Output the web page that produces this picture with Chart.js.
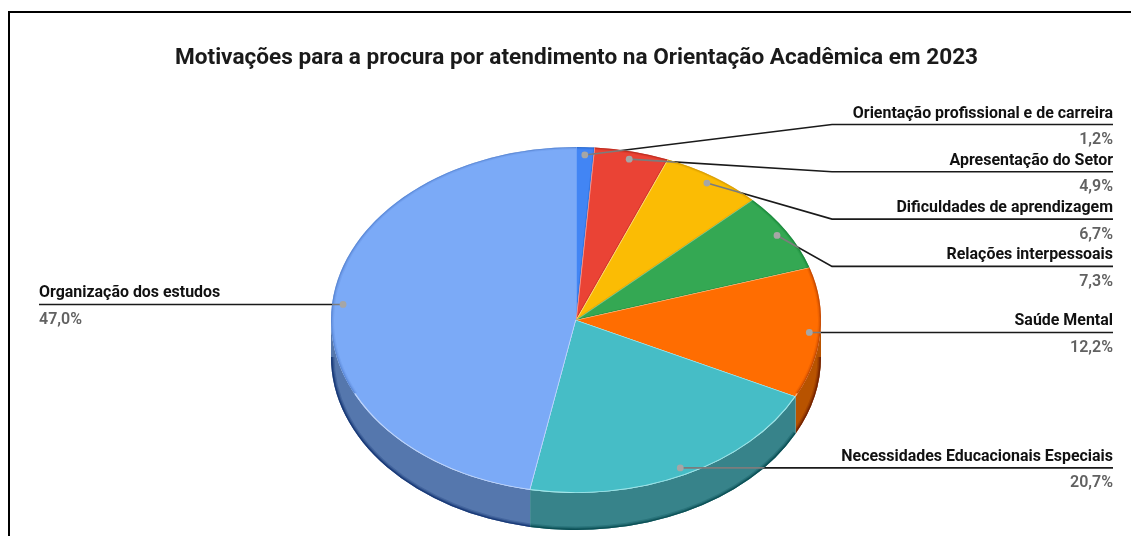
<!DOCTYPE html>
<html><head><meta charset="utf-8">
<style>html,body{margin:0;padding:0;background:#fff;overflow:hidden}
#w{position:relative;width:1131px;height:536px}
#f{position:absolute;left:8px;top:11px;width:1140px;height:540px;border:2px solid #000;box-sizing:border-box;pointer-events:none}</style>
<script src="https://cdn.jsdelivr.net/npm/chart.js@4"></script>
</head><body><div id="w"><canvas id="c" width="1131" height="536"></canvas><div id="f"></div></div>
<script>
const titleText = 'Motivações para a procura por atendimento na Orientação Acadêmica em 2023';
const categories = ['Orientação profissional e de carreira','Apresentação do Setor','Dificuldades de aprendizagem','Relações interpessoais','Saúde Mental','Necessidades Educacionais Especiais','Organização dos estudos'];
const values = [1.2,4.9,6.7,7.3,12.2,20.7,47.0];
const valueLabels = ['1,2%','4,9%','6,7%','7,3%','12,2%','20,7%','47,0%'];
const colors = ['#4285F4','#EA4335','#FBBC04','#34A853','#FF6D01','#46BDC6','#7BAAF7'];
const rimColors = ['#1f5fc0','#a81f14','#c98f00','#0f7a30','#a83800','#1d8a92','#4a78c4'];
const edgeColors = ['#8ab4f8','#f7aaa4','#fde293','#81c995','#ffc79a','#b4f0f3','#cfe0fd'];
const wallColors = ['#2a5199','#90281f','#9a7300','#1f6b33','#B85300','#37838A','#5577AD'];
const wallEdge = ['#123a80','#6a1208','#705000','#0d4a20','#6a1c00','#04484e','#10306f'];

const TILT=0.706, DEPTH=37, CY=320, TOP_ROW=124.5, ROW_PITCH=47.3;
const toY = (y,cy)=>CY+(y-cy)*TILT;

function pieGeom(chart){
  const arcs=chart.getDatasetMeta(0).data;
  const a0=arcs[0];
  return {arcs,cx:a0.x,cy:a0.y,R:a0.outerRadius};
}
function ellipsePt(g,ang,r){return [g.cx+Math.cos(ang)*r, toY(g.cy+Math.sin(ang)*r,g.cy)];}

function leaders(chart){
  const g=pieGeom(chart);
  const right=[],left=[];
  g.arcs.forEach((a,i)=>{
    const mid=(a.startAngle+a.endAngle)/2;
    const p=ellipsePt(g,mid,g.R*0.955);
    (p[0]>=g.cx?right:left).push({i,x:p[0],y:p[1]});
  });
  let prev=null;
  right.forEach(o=>{o.ly=prev===null?TOP_ROW:Math.max(o.y,prev+ROW_PITCH);prev=o.ly;o.side=1;});
  left.forEach(o=>{o.ly=o.y;o.side=-1;});
  return right.concat(left);
}
function linePath(ctx,o){
  ctx.beginPath();ctx.moveTo(o.x,o.y);
  if(o.side>0){ if(Math.abs(o.ly-o.y)>0.5) ctx.lineTo(832,o.ly); ctx.lineTo(1113,o.ly);} 
  else ctx.lineTo(39,o.ly);
}
function solidPath(ctx,g){
  ctx.beginPath();
  ctx.ellipse(g.cx,CY,g.R,g.R*TILT,0,Math.PI,0,false);
  ctx.ellipse(g.cx,CY+DEPTH,g.R,g.R*TILT,0,0,Math.PI,false);
  ctx.closePath();
}
const pie3d={
  id:'pie3d',
  beforeDatasetsDraw(chart){
    const ctx=chart.ctx,g=pieGeom(chart);
    ctx.save();ctx.strokeStyle='#1a1a1a';ctx.lineWidth=1.6;
    leaders(chart).forEach(o=>{linePath(ctx,o);ctx.stroke();});
    ctx.restore();
    g.arcs.forEach((a,i)=>{
      const s=Math.max(a.startAngle,0), e=Math.min(a.endAngle,Math.PI);
      if(e<=s) return;
      const rx=g.R, ry=g.R*TILT;
      ctx.beginPath();
      ctx.ellipse(g.cx,CY,rx,ry,0,s,e,false);
      ctx.ellipse(g.cx,CY+DEPTH,rx,ry,0,e,s,true);
      ctx.closePath();
      ctx.fillStyle=wallColors[i];ctx.fill();
      ctx.save();ctx.clip();
      [[7,0.25],[4.5,0.4],[2.5,0.7]].forEach(([w,al])=>{
        ctx.globalAlpha=al;ctx.strokeStyle=wallEdge[i];ctx.lineWidth=w;
        ctx.beginPath();ctx.ellipse(g.cx,CY+DEPTH,rx,ry,0,s,e,false);ctx.stroke();
      });
      ctx.restore();
    });
    ctx.save();
    ctx.translate(0,CY-g.cy*TILT);
    ctx.scale(1,TILT);
  },
  afterDatasetsDraw(chart){
    const ctx=chart.ctx,g=pieGeom(chart);
    const litS=Math.PI*0.14, litE=Math.PI*0.86;
    g.arcs.forEach((a,i)=>{
      ctx.save();
      ctx.beginPath();ctx.moveTo(g.cx,g.cy);ctx.arc(g.cx,g.cy,g.R,a.startAngle,a.endAngle);ctx.closePath();ctx.clip();
      [[6,0.16],[3.5,0.28],[1.8,0.45]].forEach(([w,al])=>{
        ctx.globalAlpha=al;ctx.strokeStyle=rimColors[i];ctx.lineWidth=w;
        const arcs=[[a.startAngle,Math.min(a.endAngle,litS)],[Math.max(a.startAngle,litE),a.endAngle]];
        arcs.forEach(([s,e])=>{ if(e>s){ctx.beginPath();ctx.arc(g.cx,g.cy,g.R,s,e);ctx.stroke();} });
      });
      const ls=Math.max(a.startAngle,litS), le=Math.min(a.endAngle,litE);
      if(le>ls){
        ctx.strokeStyle=edgeColors[i];ctx.globalAlpha=0.8;ctx.lineWidth=2.4;
        ctx.beginPath();ctx.arc(g.cx,g.cy,g.R,ls,le);ctx.stroke();
      }
      const y0=g.cy;
      if(a.endAngle<0){
        ctx.strokeStyle=rimColors[i];ctx.globalAlpha=0.35;ctx.lineWidth=2.5;
        ctx.beginPath();ctx.moveTo(g.cx,y0);ctx.lineTo(g.cx+Math.cos(a.endAngle)*g.R,y0+Math.sin(a.endAngle)*g.R);ctx.stroke();
      }
      ctx.globalAlpha=0.9;ctx.strokeStyle=edgeColors[i];ctx.lineWidth=1.4;
      ctx.beginPath();ctx.moveTo(g.cx,y0);ctx.lineTo(g.cx+Math.cos(a.startAngle)*g.R,y0+Math.sin(a.startAngle)*g.R);ctx.stroke();
      ctx.restore();
    });
    ctx.restore();
    const L=leaders(chart);
    ctx.save();solidPath(ctx,g);ctx.clip();
    ctx.strokeStyle='#7c7c7c';ctx.lineWidth=1.6;
    L.forEach(o=>{linePath(ctx,o);ctx.stroke();});
    ctx.restore();
    L.forEach(o=>{
      ctx.beginPath();ctx.arc(o.x,o.y,3.4,0,Math.PI*2);ctx.fillStyle='#a6a6a6';ctx.fill();
      const tx=o.side>0?1113:39;
      ctx.textAlign=o.side>0?'right':'left';ctx.textBaseline='alphabetic';
      ctx.font='700 15.95px Roboto';ctx.fillStyle='#111';
      ctx.fillText(categories[o.i],tx,o.ly-7);
      ctx.font='600 16px Roboto';ctx.fillStyle='#616161';
      ctx.fillText(valueLabels[o.i],tx,o.ly+19.5);
    });
    ctx.textAlign='center';ctx.font='700 22.6px Roboto';ctx.fillStyle='#1a1a1a';
    ctx.fillText(titleText,576.5,64);
  }
};
new Chart(document.getElementById('c'),{
  type:'pie',
  data:{labels:categories,datasets:[{data:values,backgroundColor:colors,borderWidth:0}]},
  options:{
    responsive:false,animation:false,
    layout:{padding:{left:21,right:0,top:23,bottom:23}},
    plugins:{legend:{display:false},tooltip:{enabled:false},title:{display:false}}
  },
  plugins:[pie3d]
});
</script></body></html>
